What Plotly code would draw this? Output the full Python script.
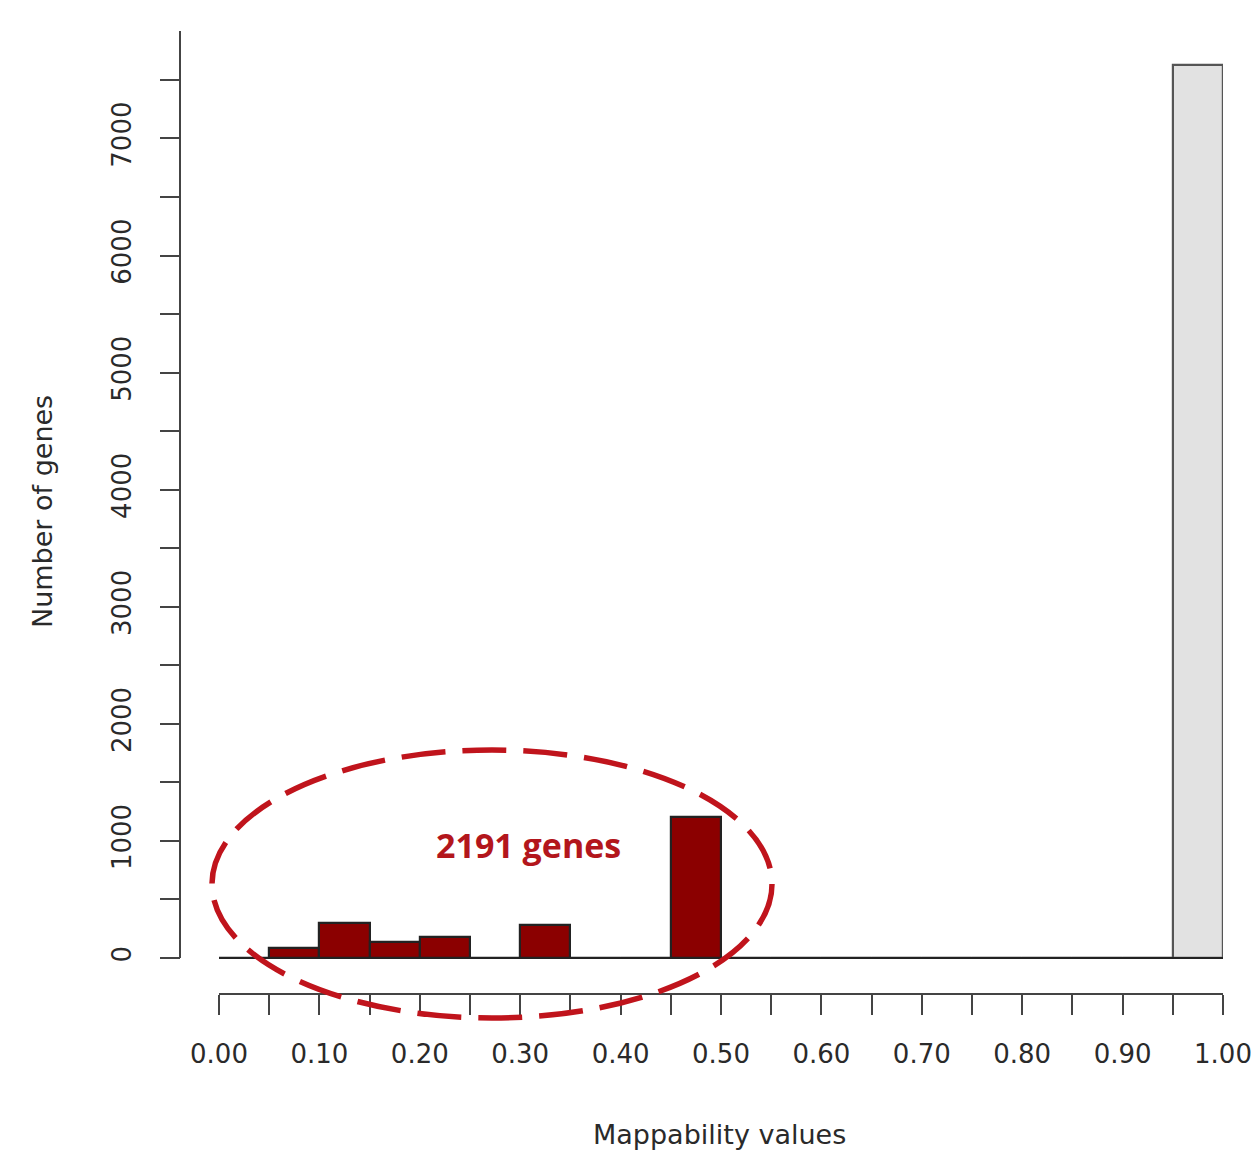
import plotly.graph_objects as go

# ---- data ----
bin_left = [0.00, 0.05, 0.10, 0.15, 0.20, 0.25, 0.30, 0.35, 0.40, 0.45,
            0.50, 0.55, 0.60, 0.65, 0.70, 0.75, 0.80, 0.85, 0.90, 0.95]
counts = [0, 88, 302, 140, 178, 0, 282, 0, 0, 1201,
          0, 0, 0, 0, 0, 0, 0, 0, 0, 7625]
bin_width = 0.05
y_tickvals = [0, 500, 1000, 1500, 2000, 2500, 3000, 3500, 4000, 4500,
              5000, 5500, 6000, 6500, 7000, 7500]
y_ticktext = ["0", "", "1000", "", "2000", "", "3000", "", "4000", "",
              "5000", "", "6000", "", "7000", ""]
x_tickvals = [i * 0.05 for i in range(21)]
x_ticktext = [("%.2f" % v) if i % 2 == 0 else "" for i, v in enumerate(x_tickvals)]
annotation_text = "2191 genes"
x_title = "Mappability values"
y_title = "Number of genes"

W, H = 1258, 1151
RED = "#8b0000"
GREY = "#e2e2e2"

centers = [b + bin_width / 2 for b in bin_left]
fills = [GREY if b >= 0.95 else RED for b in bin_left]
edges = ["#555555" if b >= 0.95 else "#222222" for b in bin_left]

fig = go.Figure()
# baseline of the histogram (zero-height bins)
fig.add_trace(go.Scatter(x=[-0.002, 1], y=[0, 0], mode="lines",
                         line=dict(color="#222222", width=2),
                         hoverinfo="skip", showlegend=False, cliponaxis=False))
fig.add_trace(go.Bar(x=centers, y=counts, width=bin_width,
                     marker=dict(color=fills, line=dict(color=edges, width=2.2)),
                     showlegend=False))

tick_font = dict(family="DejaVu Sans", size=26, color="#2a2a2a")

fig.update_layout(
    width=W, height=H, autosize=False,
    margin=dict(l=0, r=0, t=0, b=0, autoexpand=False),
    plot_bgcolor="white", paper_bgcolor="white",
    bargap=0,
    xaxis=dict(domain=[219 / W, 1223 / W], range=[0, 1],
               showgrid=False, zeroline=False,
               showline=True, linecolor="#444444", linewidth=2,
               ticks="outside", ticklen=20, tickwidth=2, tickcolor="#444444",
               tickmode="array", tickvals=x_tickvals, ticktext=x_ticktext,
               tickfont=tick_font, ticklabelstandoff=17,
               anchor="y", automargin=False),
    yaxis=dict(domain=[(H - 993) / H, (H - 31) / H], range=[-299, 7918],
               showgrid=False, zeroline=False, showline=False,
               anchor="free", position=180 / W, automargin=False,
               ticks="outside", ticklen=20, tickwidth=2, tickcolor="#444444",
               tickmode="array", tickvals=y_tickvals, ticktext=y_ticktext,
               tickangle=-90, tickfont=tick_font, ticklabelstandoff=19),
    shapes=[
        # y axis line
        dict(type="line", xref="paper", yref="y", x0=180 / W, x1=180 / W,
             y0=0, y1=7918, line=dict(color="#444444", width=2)),
        # dashed ellipse
        dict(type="circle", xref="paper", yref="paper",
             x0=212 / W, x1=772 / W, y0=1 - 1018 / H, y1=1 - 750 / H,
             line=dict(color="#c0141c", width=5.5, dash="44px,17px"),
             layer="above"),
    ],
    annotations=[
        dict(text=annotation_text, xref="paper", yref="paper",
             x=528 / W, y=1 - 845 / H, xanchor="center", yanchor="middle",
             showarrow=False,
             font=dict(family="Open Sans", size=34, color="#b3161c", weight="bold")),
        dict(text=x_title, xref="paper", yref="paper",
             x=719 / W, y=1 - 1134 / H, xanchor="center", yanchor="middle",
             showarrow=False,
             font=dict(family="DejaVu Sans", size=27, color="#2a2a2a")),
        dict(text=y_title, xref="paper", yref="paper",
             x=42 / W, y=1 - 512 / H, xanchor="center", yanchor="middle",
             showarrow=False, textangle=-90,
             font=dict(family="DejaVu Sans", size=27, color="#2a2a2a")),
    ],
)

fig.write_html("out.html")
